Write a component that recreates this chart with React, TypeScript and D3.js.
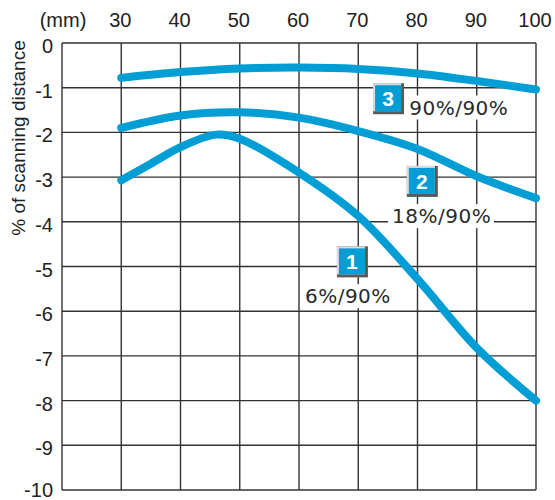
import React from "react";
import * as d3 from "d3";

// ---- data ----
const xTicks = [30, 40, 50, 60, 70, 80, 90, 100];
const yTicks = [0, -1, -2, -3, -4, -5, -6, -7, -8, -9, -10];
const xUnit = "(mm)";
const yTitle = "% of scanning distance";

const curve3X = [30, 40, 50, 60, 70, 80, 90, 100];
const curve3Y = [-0.78, -0.65, -0.57, -0.55, -0.58, -0.68, -0.85, -1.04];

const curve2X = [30, 40, 50, 60, 70, 80, 90, 100];
const curve2Y = [-1.9, -1.62, -1.55, -1.67, -1.97, -2.37, -2.98, -3.47];

const curve1X = [30, 35, 40, 46, 50, 60, 70, 80, 90, 100];
const curve1Y = [-3.07, -2.7, -2.33, -2.05, -2.14, -2.9, -3.87, -5.28, -6.82, -8.0];

const seriesIds = ["1", "2", "3"];
const seriesLabels = ["6%/90%", "18%/90%", "90%/90%"];

// ---- layout ----
const W = 555;
const H = 500;
const left = 62;
const right = 536;
const top = 43;
const bottom = 490;
const BLUE = "#009ed4";
const GRID = "#333333";

export default function App() {
  const x = d3.scaleLinear().domain([20, 100]).range([left, right]);
  const y = d3.scaleLinear().domain([0, -10]).range([top, bottom]);

  const line = d3
    .line<[number, number]>()
    .x((d) => x(d[0]))
    .y((d) => y(d[1]))
    .curve(d3.curveCatmullRom.alpha(0.5));

  const series = [
    curve1X.map((v, i) => [v, curve1Y[i]] as [number, number]),
    curve2X.map((v, i) => [v, curve2Y[i]] as [number, number]),
    curve3X.map((v, i) => [v, curve3Y[i]] as [number, number]),
  ];

  // annotation placement (data coords): badge top-left, label start/baseline
  const badgePos = [
    [x(66.4), y(-4.55)],
    [x(78.2), y(-2.75)],
    [x(72.5), y(-0.9)],
  ];
  const labelPos = [
    [x(61.0), y(-5.82)],
    [x(75.7), y(-4.03)],
    [x(78.6), y(-1.6)],
  ];
  const labelW = [86, 100, 100];

  const vGrid = [20, ...xTicks];

  return (
    <svg
      width={W}
      height={H}
      style={{ position: "absolute", left: 0, top: 0, background: "#fff" }}
    >
      {/* grid */}
      {yTicks.map((t) => (
        <line
          key={"h" + t}
          x1={left}
          x2={right}
          y1={y(t)}
          y2={y(t)}
          stroke={GRID}
          strokeWidth={1.4}
        />
      ))}
      {vGrid.map((t) => (
        <line
          key={"v" + t}
          x1={x(t)}
          x2={x(t)}
          y1={top}
          y2={bottom}
          stroke={GRID}
          strokeWidth={1.4}
        />
      ))}

      {/* tick labels */}
      <g fontFamily="'Liberation Sans', Arial, sans-serif" fontSize={20} fill="#222">
        {xTicks.map((t) => (
          <text key={"xt" + t} x={x(t) - 1} y={27} textAnchor="middle">
            {t}
          </text>
        ))}
        <text x={63} y={27} textAnchor="middle">
          {xUnit}
        </text>
        {yTicks.map((t) => (
          <text key={"yt" + t} x={53} y={Math.min(y(t) + 10, 497)} textAnchor="end">
            {t}
          </text>
        ))}
        <text
          transform={`translate(25,138) rotate(-90)`}
          textAnchor="middle"
          fontSize={19}
        >
          {yTitle}
        </text>
      </g>

      {/* curves */}
      {series.map((s, i) => (
        <path
          key={"c" + i}
          d={line(s) || ""}
          fill="none"
          stroke={BLUE}
          strokeWidth={8}
          strokeLinecap="round"
        />
      ))}

      {/* annotations */}
      {seriesIds.map((id, i) => {
        const [bx, by] = badgePos[i];
        const [lx, ly] = labelPos[i];
        return (
          <g key={"a" + id}>
            <rect x={lx - 4} y={ly - 19} width={labelW[i] + 6} height={24} fill="#fff" />
            <text
              x={lx}
              y={ly}
              fontFamily="'DejaVu Sans', sans-serif"
              fontSize={20}
              letterSpacing={0.5}
              fill="#2a2a2a"
            >
              {seriesLabels[i]}
            </text>
            <rect x={bx} y={by} width={31} height={31} fill="#5a5a5a" />
            <rect x={bx} y={by} width={28} height={28} fill="#dcdcdc" />
            <rect x={bx + 2} y={by + 2} width={26} height={26} fill={BLUE} />
            <text
              x={bx + 15}
              y={by + 23}
              textAnchor="middle"
              fontFamily="'Liberation Sans', Arial, sans-serif"
              fontWeight="bold"
              fontSize={21}
              fill="#fff"
            >
              {id}
            </text>
          </g>
        );
      })}
    </svg>
  );
}
